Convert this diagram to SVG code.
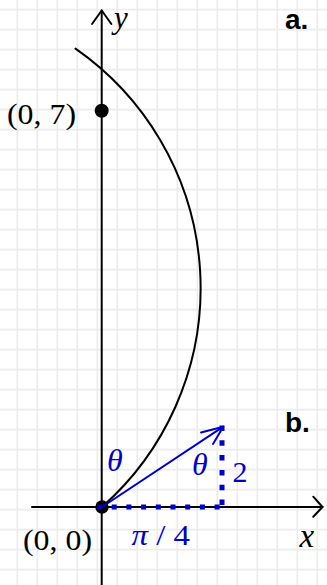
<svg xmlns="http://www.w3.org/2000/svg" width="327" height="585" viewBox="0 0 327 585">
<defs>
<style>
.grid line{stroke:#ececec;stroke-width:1.6}
.ax{stroke:#000;stroke-width:2;fill:none;stroke-linecap:round;stroke-linejoin:round}
.blue{stroke:#0000cc;fill:none}
.m{font-family:"Liberation Serif","Times New Roman",serif}
.it{font-style:italic}
.lbl{font-family:"Liberation Sans",Arial,sans-serif;font-weight:bold;font-size:28px;fill:#000}
</style>
</defs>
<rect width="327" height="585" fill="#fff"/>
<g id="grid" class="grid">
<line x1="17.3" y1="0" x2="17.3" y2="585"/><line x1="37.3" y1="0" x2="37.3" y2="585"/><line x1="57.3" y1="0" x2="57.3" y2="585"/><line x1="77.3" y1="0" x2="77.3" y2="585"/><line x1="97.3" y1="0" x2="97.3" y2="585"/><line x1="117.3" y1="0" x2="117.3" y2="585"/><line x1="137.3" y1="0" x2="137.3" y2="585"/><line x1="157.3" y1="0" x2="157.3" y2="585"/><line x1="177.3" y1="0" x2="177.3" y2="585"/><line x1="197.3" y1="0" x2="197.3" y2="585"/><line x1="217.3" y1="0" x2="217.3" y2="585"/><line x1="237.3" y1="0" x2="237.3" y2="585"/><line x1="257.3" y1="0" x2="257.3" y2="585"/><line x1="277.3" y1="0" x2="277.3" y2="585"/><line x1="297.3" y1="0" x2="297.3" y2="585"/><line x1="317.3" y1="0" x2="317.3" y2="585"/>
<line x1="0" y1="9.6" x2="327" y2="9.6"/><line x1="0" y1="29.6" x2="327" y2="29.6"/><line x1="0" y1="49.6" x2="327" y2="49.6"/><line x1="0" y1="69.6" x2="327" y2="69.6"/><line x1="0" y1="89.6" x2="327" y2="89.6"/><line x1="0" y1="109.6" x2="327" y2="109.6"/><line x1="0" y1="129.6" x2="327" y2="129.6"/><line x1="0" y1="149.6" x2="327" y2="149.6"/><line x1="0" y1="169.6" x2="327" y2="169.6"/><line x1="0" y1="189.6" x2="327" y2="189.6"/><line x1="0" y1="209.6" x2="327" y2="209.6"/><line x1="0" y1="229.6" x2="327" y2="229.6"/><line x1="0" y1="249.6" x2="327" y2="249.6"/><line x1="0" y1="269.6" x2="327" y2="269.6"/><line x1="0" y1="289.6" x2="327" y2="289.6"/><line x1="0" y1="309.6" x2="327" y2="309.6"/><line x1="0" y1="329.6" x2="327" y2="329.6"/><line x1="0" y1="349.6" x2="327" y2="349.6"/><line x1="0" y1="369.6" x2="327" y2="369.6"/><line x1="0" y1="389.6" x2="327" y2="389.6"/><line x1="0" y1="409.6" x2="327" y2="409.6"/><line x1="0" y1="429.6" x2="327" y2="429.6"/><line x1="0" y1="449.6" x2="327" y2="449.6"/><line x1="0" y1="469.6" x2="327" y2="469.6"/><line x1="0" y1="489.6" x2="327" y2="489.6"/><line x1="0" y1="509.6" x2="327" y2="509.6"/><line x1="0" y1="529.6" x2="327" y2="529.6"/><line x1="0" y1="549.6" x2="327" y2="549.6"/><line x1="0" y1="569.6" x2="327" y2="569.6"/>
</g>
<g id="axes">
<line class="ax" x1="101.7" y1="10.5" x2="101.7" y2="590"/>
<polyline class="ax" points="92,24 101.7,10.5 111.4,24"/>
<line class="ax" x1="32" y1="507" x2="322.5" y2="507"/>
<polyline class="ax" points="313.3,496.7 322.5,507 313.3,516.7"/>
<text class="m it" x="114" y="28" font-size="31">y</text>
<text class="m it" x="299.5" y="546.5" font-size="33">x</text>
</g>
<g id="connectors">
<path id="curve" class="ax" stroke-width="1.7" d="M75.5,48.6 A292,292 0 0 1 102,507"/>
</g>
<g id="p07">
<circle cx="101.7" cy="110.7" r="7" fill="#000"/>
<text class="m" x="7" y="124" font-size="30" textLength="69" lengthAdjust="spacingAndGlyphs">(0, 7)</text>
</g>
<g id="p00">
<circle cx="102" cy="507" r="6.7" fill="#000"/>
<text class="m" x="23" y="550" font-size="30" textLength="69" lengthAdjust="spacingAndGlyphs">(0, 0)</text>
</g>
<g id="vector">
<line class="blue" stroke-width="5" stroke-dasharray="5 9.7" x1="97" y1="507" x2="224" y2="507"/>
<line class="blue" stroke-width="5" stroke-dasharray="5.5 9.3" x1="222" y1="425.5" x2="222" y2="509.5"/>
<line class="blue" stroke-width="2" x1="102" y1="507" x2="223.3" y2="426.7"/>
<polyline class="blue" stroke-width="2" stroke-linejoin="round" stroke-linecap="round" points="201,432.5 223.3,426.7 213,444"/>
<text class="m it" x="107" y="471" font-size="32" fill="#0000cc">θ</text>
<text class="m it" x="192" y="474.5" font-size="32" fill="#0000cc">θ</text>
<text class="m" x="232.5" y="481.5" font-size="30" fill="#0000cc">2</text>
<text class="m" x="131.5" y="545" font-size="29" fill="#0000cc" textLength="58.5" lengthAdjust="spacingAndGlyphs"><tspan font-style="italic">π</tspan> / 4</text>
</g>
<g id="labels">
<text class="lbl" x="285" y="29.3">a.</text>
<text class="lbl" x="285" y="431.5">b.</text>
</g>
</svg>
